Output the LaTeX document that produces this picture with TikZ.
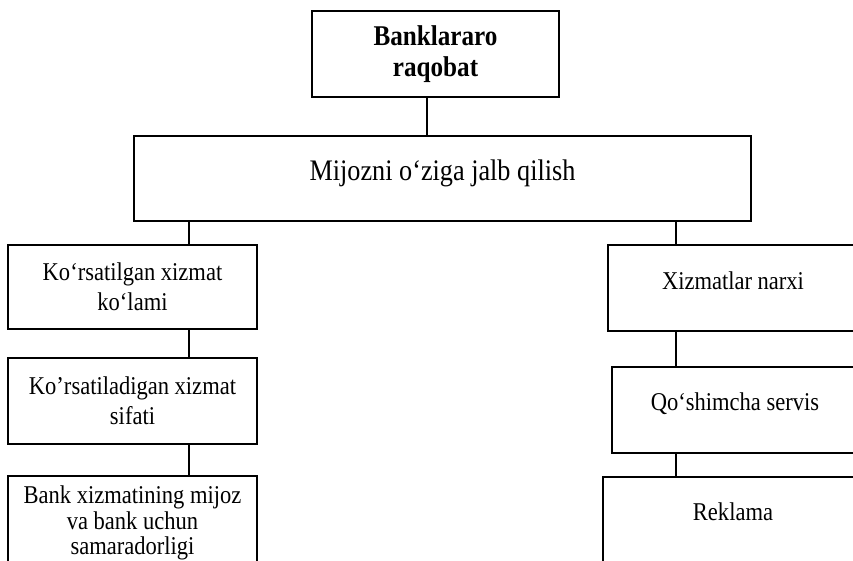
\documentclass[tikz,border=0pt]{standalone}
\usepackage{fontspec}
\setmainfont{Liberation Serif}[FakeStretch=0.88]

\begin{document}
\begin{tikzpicture}[x=0.5pt,y=-0.5pt,
		box/.style={draw,line width=0.8pt,align=center,inner sep=0pt,font=\fontsize{12.8}{15}\selectfont},
		link/.style={line width=0.8pt}]
			\useasboundingbox (0,0) rectangle (853,561);
			\clip (0,0) rectangle (853,561);
			% top
			\node[box,minimum width=123.5pt,minimum height=43pt,font=\bfseries\fontsize{14.3}{15.5}\selectfont] (rqb) at (435.5,54) {Banklararo\\raqobat};
			\node[box,minimum width=308.5pt,text height=22.5pt,text depth=20pt,font=\fontsize{14.9}{16}\selectfont] (mij) at (442.5,178.5) {Mijozni o‘ziga jalb qilish};
			% left hand
			\node[box,minimum width=124.5pt,minimum height=42pt] (kor) at (132.5,287) {Ko‘rsatilgan xizmat\\ko‘lami};
			\node[box,minimum width=124.5pt,minimum height=43pt] (sif) at (132.5,401) {Ko’rsatiladigan xizmat\\sifati};
			\node[box,minimum width=124.5pt,minimum height=47pt,font=\fontsize{12.8}{12.6}\selectfont] (sam) at (132.5,523) {Bank xizmatining mijoz\\va bank uchun\\samaradorligi};
			% right hand
			\node[box,minimum width=125pt,text height=22.5pt,text depth=20.5pt] (nrx) at (733,288) {Xizmatlar narxi};
			\node[box,minimum width=123pt,text height=22pt,text depth=21pt] (srv) at (735,410) {Qo‘shimcha servis};
			\node[box,minimum width=130pt,text height=22pt,text depth=30pt] (rkl) at (733,529) {Reklama};
			% links
			\coordinate (tx) at (427,0);
			\coordinate (lx) at (189,0);
			\coordinate (rx) at (676,0);
			\draw[link] (rqb.south -| tx) -- (mij.north -| tx);
			\foreach \a/\b in {mij/kor,kor/sif,sif/sam}
				\draw[link] (\a.south -| lx) -- (\b.north -| lx);
			\foreach \a/\b in {mij/nrx,nrx/srv,srv/rkl}
				\draw[link] (\a.south -| rx) -- (\b.north -| rx);
		\end{tikzpicture}
\end{document}
